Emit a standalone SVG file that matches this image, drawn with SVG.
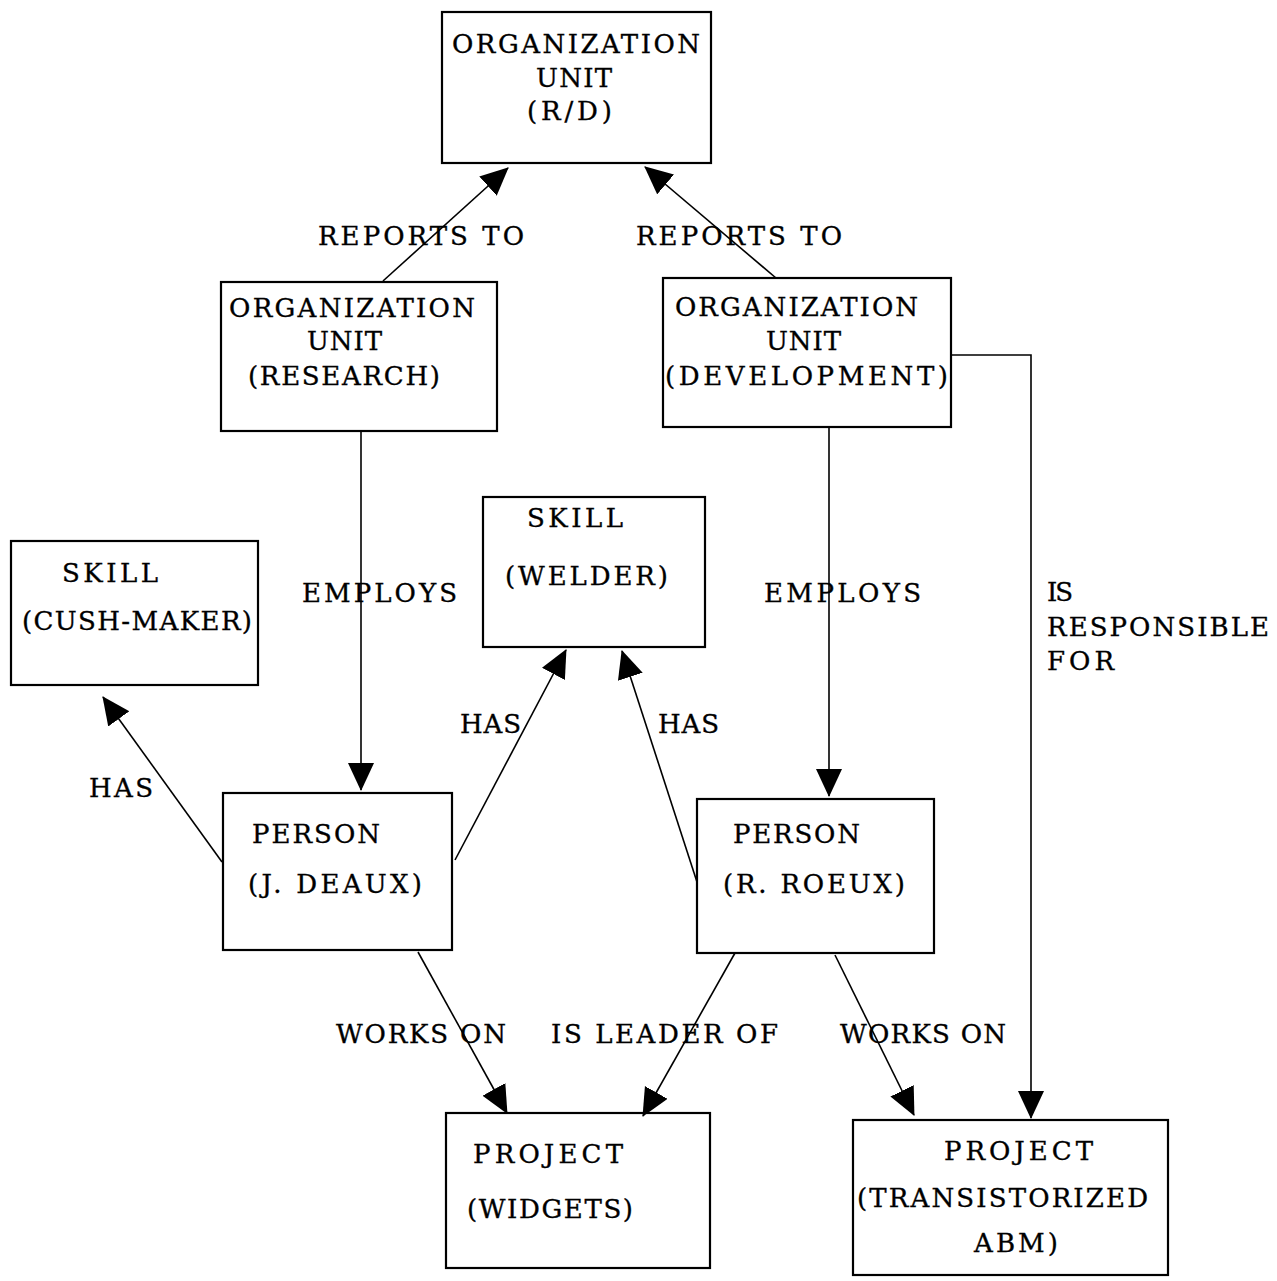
<svg xmlns="http://www.w3.org/2000/svg" width="1277" height="1281" viewBox="0 0 1277 1281">
  <style>
    .box { fill: none; stroke: #000; stroke-width: 2.2; }
    .t { font-family: "DejaVu Serif", "Liberation Serif", serif; font-size: 26px; fill: #000; stroke: #000; stroke-width: 0.35; }
    .edge { fill: none; stroke: #000; stroke-width: 1.6; marker-end: url(#ah); }
  </style>
  <defs>
    <marker id="ah" markerWidth="30" markerHeight="28" refX="27" refY="13" orient="auto" markerUnits="userSpaceOnUse">
      <path d="M0,0 L28,13 L0,26 Z" fill="#000"/>
    </marker>
  </defs>
  <rect width="1277" height="1281" fill="#fff"/>

  <!-- connectors -->
  <g id="connectors">
    <line class="edge" x1="383" y1="281" x2="508" y2="168"/>
    <line class="edge" x1="776" y1="278" x2="645" y2="167"/>
    <line class="edge" x1="361" y1="432" x2="361" y2="790"/>
    <line class="edge" x1="829" y1="428" x2="829" y2="796"/>
    <polyline class="edge" points="951,355 1031,355 1031,1118"/>
    <line class="edge" x1="222" y1="862" x2="103" y2="697"/>
    <line class="edge" x1="455" y1="860" x2="566" y2="650"/>
    <line class="edge" x1="697" y1="882" x2="622" y2="651"/>
    <line class="edge" x1="418" y1="952" x2="507" y2="1113"/>
    <line class="edge" x1="735" y1="953" x2="643" y2="1116"/>
    <line class="edge" x1="835" y1="955" x2="914" y2="1115"/>

    <!-- connector labels -->
    <text class="t" x="318" y="245" textLength="206" lengthAdjust="spacing">REPORTS TO</text>
    <text class="t" x="636" y="245" textLength="206" lengthAdjust="spacing">REPORTS TO</text>
    <text class="t" x="302" y="602" textLength="155" lengthAdjust="spacing">EMPLOYS</text>
    <text class="t" x="764" y="602" textLength="157" lengthAdjust="spacing">EMPLOYS</text>
    <text class="t" x="1047" y="601" textLength="26" lengthAdjust="spacing">IS</text>
    <text class="t" x="1047" y="636" textLength="222" lengthAdjust="spacing">RESPONSIBLE</text>
    <text class="t" x="1047" y="670" textLength="67" lengthAdjust="spacing">FOR</text>
    <text class="t" x="89" y="797" textLength="64" lengthAdjust="spacing">HAS</text>
    <text class="t" x="460" y="733" textLength="61" lengthAdjust="spacing">HAS</text>
    <text class="t" x="658" y="733" textLength="61" lengthAdjust="spacing">HAS</text>
    <text class="t" x="336" y="1043" textLength="170" lengthAdjust="spacing">WORKS ON</text>
    <text class="t" x="551" y="1043" textLength="227" lengthAdjust="spacing">IS LEADER OF</text>
    <text class="t" x="840" y="1043" textLength="166" lengthAdjust="spacing">WORKS ON</text>
  </g>

  <!-- nodes -->
  <g id="org-rd">
    <rect class="box" x="442" y="12" width="269" height="151"/>
    <text class="t" x="452" y="53" textLength="248" lengthAdjust="spacing">ORGANIZATION</text>
    <text class="t" x="536" y="87" textLength="76" lengthAdjust="spacing">UNIT</text>
    <text class="t" x="527" y="120" textLength="85" lengthAdjust="spacing">(R/D)</text>
  </g>
  <g id="org-research">
    <rect class="box" x="221" y="282" width="276" height="149"/>
    <text class="t" x="229" y="317" textLength="246" lengthAdjust="spacing">ORGANIZATION</text>
    <text class="t" x="307" y="350" textLength="75" lengthAdjust="spacing">UNIT</text>
    <text class="t" x="248" y="385" textLength="192" lengthAdjust="spacing">(RESEARCH)</text>
  </g>
  <g id="org-development">
    <rect class="box" x="663" y="278" width="288" height="149"/>
    <text class="t" x="675" y="316" textLength="243" lengthAdjust="spacing">ORGANIZATION</text>
    <text class="t" x="766" y="350" textLength="75" lengthAdjust="spacing">UNIT</text>
    <text class="t" x="665" y="385" textLength="283" lengthAdjust="spacing">(DEVELOPMENT)</text>
  </g>
  <g id="skill-cushmaker">
    <rect class="box" x="11" y="541" width="247" height="144"/>
    <text class="t" x="62" y="582" textLength="96" lengthAdjust="spacing">SKILL</text>
    <text class="t" x="22" y="630" textLength="230" lengthAdjust="spacing">(CUSH-MAKER)</text>
  </g>
  <g id="skill-welder">
    <rect class="box" x="483" y="497" width="222" height="150"/>
    <text class="t" x="527" y="527" textLength="96" lengthAdjust="spacing">SKILL</text>
    <text class="t" x="505" y="585" textLength="163" lengthAdjust="spacing">(WELDER)</text>
  </g>
  <g id="person-deaux">
    <rect class="box" x="223" y="793" width="229" height="157"/>
    <text class="t" x="252" y="843" textLength="128" lengthAdjust="spacing">PERSON</text>
    <text class="t" x="248" y="893" textLength="174" lengthAdjust="spacing">(J. DEAUX)</text>
  </g>
  <g id="person-roeux">
    <rect class="box" x="697" y="799" width="237" height="154"/>
    <text class="t" x="733" y="843" textLength="127" lengthAdjust="spacing">PERSON</text>
    <text class="t" x="723" y="893" textLength="182" lengthAdjust="spacing">(R. ROEUX)</text>
  </g>
  <g id="project-widgets">
    <rect class="box" x="446" y="1113" width="264" height="155"/>
    <text class="t" x="473" y="1163" textLength="150" lengthAdjust="spacing">PROJECT</text>
    <text class="t" x="467" y="1218" textLength="166" lengthAdjust="spacing">(WIDGETS)</text>
  </g>
  <g id="project-abm">
    <rect class="box" x="853" y="1120" width="315" height="155"/>
    <text class="t" x="944" y="1160" textLength="149" lengthAdjust="spacing">PROJECT</text>
    <text class="t" x="857" y="1207" textLength="291" lengthAdjust="spacing">(TRANSISTORIZED</text>
    <text class="t" x="974" y="1252" textLength="84" lengthAdjust="spacing">ABM)</text>
  </g>
</svg>
